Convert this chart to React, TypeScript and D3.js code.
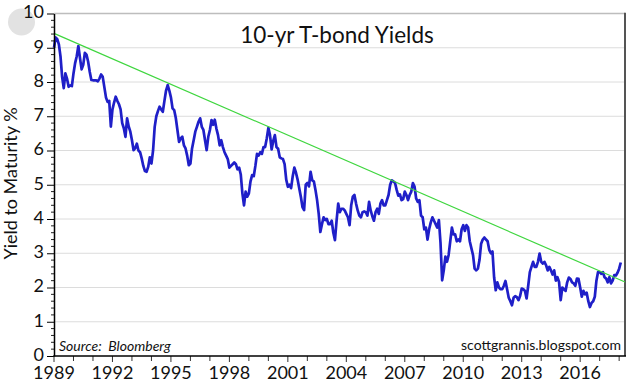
import React, { useEffect, useRef } from 'react';
import * as d3 from 'd3';

const WIDTH = 641;
const HEIGHT = 388;

// 10-yr Treasury yield, one value per month starting Jan 1989 (%)
const startYear = 1989;
const yieldValues: number[] = [
  9.0, 9.3, 9.25, 9.1, 8.75, 8.15, 7.82, 8.25, 8.1, 7.86, 7.9, 7.88, // 1989
  8.25, 8.55, 8.75, 9.05, 8.7, 8.37, 8.5, 8.85, 8.8, 8.6, 8.3, 8.06, // 1990
  8.05, 8.05, 8.05, 8.02, 8.1, 8.22, 8.15, 7.85, 7.55, 7.42, 7.45, 6.7, // 1991
  7.2, 7.4, 7.57, 7.45, 7.35, 7.2, 6.8, 6.65, 6.4, 6.94, 6.7, 6.55, // 1992
  6.3, 6.01, 6.07, 6.2, 6.0, 5.95, 5.77, 5.55, 5.4, 5.38, 5.52, 5.8, // 1993
  5.62, 6.0, 6.69, 7.0, 7.15, 7.28, 7.2, 7.13, 7.45, 7.75, 7.91, 7.75, // 1994
  7.55, 7.23, 7.18, 6.95, 6.6, 6.25, 6.35, 6.4, 6.15, 6.06, 5.85, 5.57, // 1995
  5.62, 6.06, 6.3, 6.55, 6.69, 6.84, 6.94, 6.69, 6.6, 6.3, 6.01, 6.4, // 1996
  6.6, 6.89, 6.75, 6.9, 6.64, 6.45, 6.15, 6.3, 6.1, 5.95, 5.85, 5.75, // 1997
  5.5, 5.55, 5.6, 5.65, 5.6, 5.45, 5.5, 5.3, 4.75, 4.4, 4.8, 4.65, // 1998
  4.75, 5.1, 5.28, 5.25, 5.55, 5.9, 5.85, 5.95, 5.9, 6.1, 6.1, 6.35, // 1999
  6.66, 6.45, 6.03, 6.28, 6.45, 6.1, 6.05, 5.8, 5.77, 5.75, 5.6, 5.15, // 2000
  4.94, 5.0, 4.9, 5.25, 5.5, 5.35, 5.15, 4.9, 4.65, 4.35, 4.26, 5.0, // 2001
  5.05, 4.95, 5.38, 5.13, 5.1, 4.85, 4.55, 4.15, 3.62, 3.85, 4.05, 3.97, // 2002
  4.0, 3.85, 3.85, 3.95, 3.6, 3.38, 3.95, 4.45, 4.2, 4.3, 4.3, 4.25, // 2003
  4.15, 4.05, 3.82, 4.4, 4.65, 4.7, 4.45, 4.25, 4.1, 4.05, 4.2, 4.22, // 2004
  4.2, 4.1, 4.5, 4.25, 4.08, 3.95, 4.2, 4.3, 4.15, 4.45, 4.55, 4.4, // 2005
  4.4, 4.55, 4.7, 5.0, 5.13, 5.1, 5.05, 4.85, 4.68, 4.72, 4.55, 4.58, // 2006
  4.8, 4.7, 4.55, 4.7, 4.8, 5.05, 4.95, 4.6, 4.5, 4.55, 4.1, 4.05, // 2007
  3.7, 3.75, 3.4, 3.7, 3.9, 4.05, 3.95, 3.85, 3.75, 3.97, 3.3, 2.21, // 2008
  2.5, 2.9, 2.75, 2.95, 3.35, 3.75, 3.55, 3.55, 3.35, 3.4, 3.35, 3.7, // 2009
  3.82, 3.65, 3.82, 3.75, 3.35, 3.15, 2.95, 2.55, 2.5, 2.55, 2.8, 3.28, // 2010
  3.4, 3.46, 3.4, 3.35, 3.1, 3.0, 3.05, 2.3, 1.92, 2.15, 2.0, 1.95, // 2011
  1.95, 2.05, 2.19, 1.95, 1.7, 1.6, 1.48, 1.7, 1.75, 1.72, 1.63, 1.75, // 2012
  1.97, 1.95, 1.9, 1.68, 2.05, 2.45, 2.6, 2.75, 2.6, 2.6, 2.75, 2.99, // 2013
  2.75, 2.7, 2.75, 2.65, 2.5, 2.6, 2.5, 2.38, 2.5, 2.2, 2.3, 2.16, // 2014
  1.63, 2.0, 1.95, 1.9, 2.15, 2.29, 2.25, 2.15, 2.12, 2.05, 2.26, 2.25, // 2015
  2.0, 1.73, 1.9, 1.8, 1.85, 1.6, 1.43, 1.55, 1.6, 1.73, 2.2, 2.45, // 2016
  2.45, 2.4, 2.45, 2.3, 2.26, 2.15, 2.3, 2.12, 2.2, 2.36, 2.35, 2.43, // 2017
  2.55, 2.73, // 2018
];

// hand-drawn trend line touching the peaks
const trendYears = [1989, 2018.3];
const trendValues = [9.42, 2.16];

const yTicks = [0, 1, 2, 3, 4, 5, 6, 7, 8, 9, 10];
const xLabelYears = [1989, 1992, 1995, 1998, 2001, 2004, 2007, 2010, 2013, 2016];
const xDomain = [1989, 2018.3];

const FONT = 'Lato, "Open Sans", sans-serif';

export default function App() {
  const svgRef = useRef<SVGSVGElement | null>(null);

  useEffect(() => {
    if (!svgRef.current) return;
    const svg = d3.select(svgRef.current);
    svg.selectAll('*').remove();

    const left = 54;
    const right = 625;
    const top = 13.5;
    const bottom = 356;

    const x = d3.scaleLinear().domain(xDomain).range([left, right]);
    const y = d3.scaleLinear().domain([0, 10]).range([bottom, top]);

    svg.append('rect').attr('width', WIDTH).attr('height', HEIGHT).attr('fill', '#fff');

    // grey dot in the corner
    svg.append('circle')
      .attr('cx', 21.5).attr('cy', 22).attr('r', 13.5)
      .attr('fill', '#e2e2e2');

    // gridlines
    svg.append('g')
      .selectAll('line')
      .data(yTicks.filter(d => d > 0 && d < 10))
      .enter()
      .append('line')
      .attr('x1', left).attr('x2', right)
      .attr('y1', d => y(d)).attr('y2', d => y(d))
      .attr('stroke', '#dcdcdc')
      .attr('stroke-width', 1);

    // top and right frame
    svg.append('line')
      .attr('x1', left).attr('x2', right)
      .attr('y1', y(10)).attr('y2', y(10))
      .attr('stroke', '#bdbdbd').attr('stroke-width', 1.5);
    svg.append('line')
      .attr('x1', right).attr('x2', right)
      .attr('y1', y(10) - 0.75).attr('y2', bottom)
      .attr('stroke', '#555').attr('stroke-width', 2);

    // yield series
    const points = yieldValues.map((v, i) => ({ t: startYear + i / 12, v }));
    const line = d3.line<{ t: number; v: number }>()
      .x(d => x(d.t))
      .y(d => y(d.v));

    svg.append('path')
      .datum(points)
      .attr('fill', 'none')
      .attr('stroke', '#1f1fc8')
      .attr('stroke-width', 2.7)
      .attr('stroke-linejoin', 'round')
      .attr('d', line);

    // trend line
    svg.append('line')
      .attr('x1', x(trendYears[0])).attr('y1', y(trendValues[0]))
      .attr('x2', x(trendYears[1])).attr('y2', y(trendValues[1]))
      .attr('stroke', '#3fd63f')
      .attr('stroke-width', 1.2);

    // y axis: minor ticks every 0.2
    const yMinor = d3.range(0, 10.001, 0.2).filter(d => Math.abs(d - Math.round(d)) > 0.01);
    svg.append('g')
      .selectAll('line')
      .data(yMinor)
      .enter()
      .append('line')
      .attr('x1', left - 3).attr('x2', left)
      .attr('y1', d => y(d)).attr('y2', d => y(d))
      .attr('stroke', '#222').attr('stroke-width', 1);

    const yAxis = svg.append('g')
      .attr('transform', `translate(${left},0)`)
      .call(d3.axisLeft(y).tickValues(yTicks).tickSize(7).tickSizeOuter(0).tickPadding(3));
    yAxis.select('.domain').attr('stroke', '#000').attr('stroke-width', 1.5);
    yAxis.selectAll('.tick line').attr('stroke', '#000').attr('stroke-width', 1);
    yAxis.selectAll('text')
      .attr('font-family', FONT)
      .attr('font-size', '18px')
      .attr('fill', '#111')
      .attr('dy', '0.24em');

    // x axis: a tick every year, label every third
    const xYears = d3.range(1989, 2019);
    svg.append('g')
      .selectAll('line')
      .data(xYears)
      .enter()
      .append('line')
      .attr('x1', d => x(d)).attr('x2', d => x(d))
      .attr('y1', bottom).attr('y2', d => bottom + (xLabelYears.includes(d) ? 6 : 5))
      .attr('stroke', '#333').attr('stroke-width', 1);

    svg.append('line')
      .attr('x1', left - 0.75).attr('x2', right + 1)
      .attr('y1', bottom).attr('y2', bottom)
      .attr('stroke', '#000').attr('stroke-width', 1.5);

    svg.append('g')
      .selectAll('text')
      .data(xLabelYears)
      .enter()
      .append('text')
      .attr('x', d => x(d))
      .attr('y', 379)
      .attr('text-anchor', 'middle')
      .attr('font-family', FONT)
      .attr('font-size', '18px')
      .attr('fill', '#111')
      .text(d => String(d));

    // title
    svg.append('text')
      .attr('x', 337)
      .attr('y', 43)
      .attr('text-anchor', 'middle')
      .attr('font-family', FONT)
      .attr('font-size', '22.5px')
      .attr('fill', '#111')
      .text('10-yr T-bond Yields');

    // y axis label
    svg.append('text')
      .attr('transform', `translate(17,${183.5}) rotate(-90)`)
      .attr('text-anchor', 'middle')
      .attr('font-family', FONT)
      .attr('font-size', '18px')
      .attr('fill', '#111')
      .text('Yield to Maturity %');

    // source and site notes
    svg.append('text')
      .attr('x', 59)
      .attr('y', 350.5)
      .attr('font-family', FONT)
      .attr('font-style', 'italic')
      .attr('font-size', '14px')
      .attr('fill', '#111')
      .style('white-space', 'pre')
      .text('Source:  Bloomberg');

    svg.append('text')
      .attr('x', 621)
      .attr('y', 349.5)
      .attr('text-anchor', 'end')
      .attr('font-family', FONT)
      .attr('font-size', '14px')
      .attr('fill', '#111')
      .text('scottgrannis.blogspot.com');
  }, []);

  return (
    <svg
      ref={svgRef}
      width={WIDTH}
      height={HEIGHT}
      style={{ position: 'absolute', left: 0, top: 0, display: 'block' }}
    />
  );
}
